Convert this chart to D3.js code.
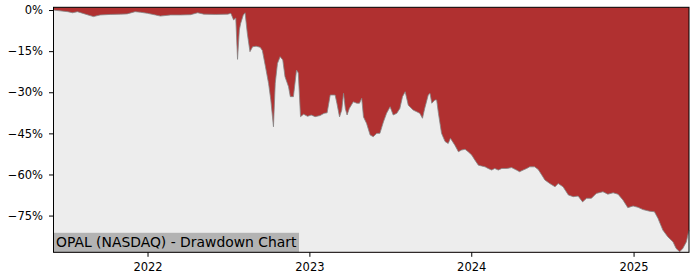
<!DOCTYPE html>
<html>
<head>
<meta charset="utf-8">
<script src="https://cdn.jsdelivr.net/npm/d3@7"></script>
<style>
  body { margin: 0; background: #fff; }
  svg { display: block; font-family: "DejaVu Sans", sans-serif; }
</style>
</head>
<body>
<svg id="dd-svg" width="700" height="280"></svg>
<script>
var title = "OPAL (NASDAQ) - Drawdown Chart";

var dates = [
  "2021-06-03","2021-06-18","2021-07-05","2021-07-16","2021-07-27","2021-08-14","2021-09-01","2021-09-16",
  "2021-10-09","2021-11-01","2021-11-16","2021-12-04","2021-12-16","2022-01-01","2022-01-19","2022-01-30",
  "2022-02-22","2022-03-16","2022-04-08","2022-04-24","2022-05-08","2022-06-03","2022-07-01","2022-07-08",
  "2022-07-14","2022-07-19","2022-07-23","2022-07-27","2022-07-30","2022-08-05","2022-08-09","2022-08-14",
  "2022-08-20","2022-08-26","2022-09-03","2022-09-12","2022-09-17","2022-09-24","2022-10-01","2022-10-06",
  "2022-10-12","2022-10-16","2022-10-21","2022-10-27","2022-11-02","2022-11-07","2022-11-15","2022-11-19",
  "2022-11-26","2022-12-03","2022-12-07","2022-12-12","2022-12-19","2022-12-28","2023-01-05","2023-01-14",
  "2023-01-25","2023-02-03","2023-02-10","2023-02-17","2023-02-28","2023-03-04","2023-03-10","2023-03-15",
  "2023-03-19","2023-03-23","2023-03-27","2023-04-01","2023-04-10","2023-04-18","2023-04-24","2023-04-29",
  "2023-05-03","2023-05-10","2023-05-18","2023-05-25","2023-06-02","2023-06-09","2023-06-17","2023-06-24",
  "2023-07-02","2023-07-09","2023-07-17","2023-07-24","2023-07-30","2023-08-05","2023-08-12","2023-08-23",
  "2023-08-31","2023-09-07","2023-09-13","2023-09-18","2023-09-26","2023-09-30","2023-10-04","2023-10-11",
  "2023-10-15","2023-10-19","2023-10-26","2023-11-03","2023-11-10","2023-11-15","2023-11-25","2023-12-03",
  "2023-12-10","2023-12-18","2023-12-25","2024-01-02","2024-01-09","2024-01-17","2024-01-24","2024-02-01",
  "2024-02-08","2024-02-16","2024-02-23","2024-03-02","2024-03-10","2024-03-21","2024-04-01","2024-04-12",
  "2024-04-19","2024-04-27","2024-05-05","2024-05-12","2024-05-23","2024-05-31","2024-06-08","2024-06-15",
  "2024-06-26","2024-07-08","2024-07-15","2024-07-26","2024-08-07","2024-08-18","2024-08-29","2024-09-08",
  "2024-09-17","2024-09-28","2024-10-09","2024-10-24","2024-11-04","2024-11-16","2024-11-27","2024-12-08",
  "2024-12-19","2024-12-31","2025-01-11","2025-01-22","2025-02-06","2025-02-17","2025-02-25","2025-03-08",
  "2025-03-19","2025-03-31","2025-04-07","2025-04-15","2025-04-22","2025-04-30","2025-05-06"
];

var drawdown = [
  0, -0.3, -0.6, -1.0, -0.6, -1.5, -2.4, -1.8,
  -1.6, -1.5, -1.4, -0.6, -0.8, -1.2, -1.8, -2.2,
  -1.8, -1.8, -1.7, -1.0, -1.5, -1.6, -1.5, -1.2,
  -3.6, -2.9, -18, -7.3, -4.9, -1.8, -1.0, -8.5,
  -15.2, -13.4, -13.2, -13.6, -14.8, -20.7, -26.8, -32.8,
  -42.6, -26.7, -19.5, -17, -18.2, -24.3, -28, -31.6,
  -31.6, -21.9, -23, -38.9, -38, -38.8, -38.3, -38.9,
  -38.5, -37.7, -37.5, -31, -31, -34, -39, -36.5,
  -30.4, -35.9, -38.3, -35.9, -33.5, -34, -34, -32.2,
  -39, -41.4, -45.6, -46.2, -45, -45, -40.8, -37.7,
  -35.3, -38.3, -37.7, -35.9, -31.6, -29.8, -34.7, -36.5,
  -37.1, -37.7, -39.5, -35.9, -31, -30.4, -34, -32.8,
  -32.8, -37.7, -45, -48, -48.7, -46.8, -49.3, -51.7,
  -51.1, -50.8, -51.7, -52.9, -54.7, -56.6, -56.9, -57.2,
  -57.8, -58.4, -57.8, -58.4, -57.8, -57.8, -57.5, -58.4,
  -59, -58.4, -57.8, -57.2, -57.2, -58.2, -60.2, -62,
  -63.3, -64.5, -63.3, -64.5, -67.5, -68.1, -67.9, -70,
  -68.7, -68.7, -66.9, -66.3, -67.2, -66.7, -67.2, -69.3,
  -72.1, -71.5, -72, -72.8, -73.4, -73.6, -76, -80.3,
  -82.7, -84.6, -87, -88.2, -87, -84.6, -80.3
];

var yTicks = [0, -15, -30, -45, -60, -75];
var xTickYears = ["2022", "2023", "2024", "2025"];

var parse = d3.timeParse("%Y-%m-%d");
var data = dates.map(function(d, i) { return { date: parse(d), dd: drawdown[i] }; });

var svg = d3.select("#dd-svg");
var margin = { top: 7.3, right: 11, bottom: 27.7, left: 53.5 },
    width = 700 - margin.left - margin.right,
    height = 280 - margin.top - margin.bottom;

var x = d3.scaleTime().range([0, width]).domain(d3.extent(data, function(d) { return d.date; }));
var y = d3.scaleLinear().range([height, 0]).domain([-88.4, 1.0]);

var g = svg.append("g")
    .attr("transform", "translate(" + margin.left + "," + margin.top + ")");

// red background = drawdown area
g.append("rect")
    .attr("width", width)
    .attr("height", height)
    .attr("fill", "#b03030");

var area = d3.area()
    .x(function(d) { return x(d.date); })
    .y0(height)
    .y1(function(d) { return y(d.dd); });

g.append("path")
    .datum(data)
    .attr("fill", "#ededed")
    .attr("d", area);

g.append("path")
    .datum(data)
    .attr("fill", "none")
    .attr("stroke", "#858585")
    .attr("stroke-width", 0.8)
    .attr("d", d3.line().x(function(d) { return x(d.date); }).y(function(d) { return y(d.dd); }));

// title box at bottom left
var label = g.append("g");
var lt = label.append("text")
    .attr("x", 2.5)
    .attr("y", height - 5)
    .attr("font-size", 13.9)
    .attr("fill", "#000")
    .text(title);
var bb = lt.node().getBBox();
label.insert("rect", "text")
    .attr("x", 0)
    .attr("y", height - 19.5)
    .attr("width", bb.width + 4.5)
    .attr("height", 19.5)
    .attr("fill", "#b3b3b3");

g.append("g")
    .attr("transform", "translate(0," + height + ")")
    .call(d3.axisBottom(x)
      .tickValues(xTickYears.map(function(s) { return parse(s + "-01-01"); }))
      .tickFormat(d3.timeFormat("%Y"))
      .tickSize(4.5).tickPadding(6))
    .call(function(a) { a.select(".domain").remove(); })
    .selectAll("text").attr("font-size", 11.5).attr("font-family", "DejaVu Sans").attr("fill", "#000");

g.append("g")
    .call(d3.axisLeft(y)
      .tickValues(yTicks)
      .tickFormat(function(d) { return (d < 0 ? "\u2212" + (-d) : d) + "%"; })
      .tickSize(4.5).tickPadding(6))
    .call(function(a) { a.select(".domain").remove(); })
    .selectAll("text").attr("font-size", 11.5).attr("font-family", "DejaVu Sans").attr("fill", "#000");

g.append("rect")
    .attr("width", width)
    .attr("height", height)
    .attr("fill", "none")
    .attr("stroke", "#000")
    .attr("stroke-width", 1);
</script>
</body>
</html>
